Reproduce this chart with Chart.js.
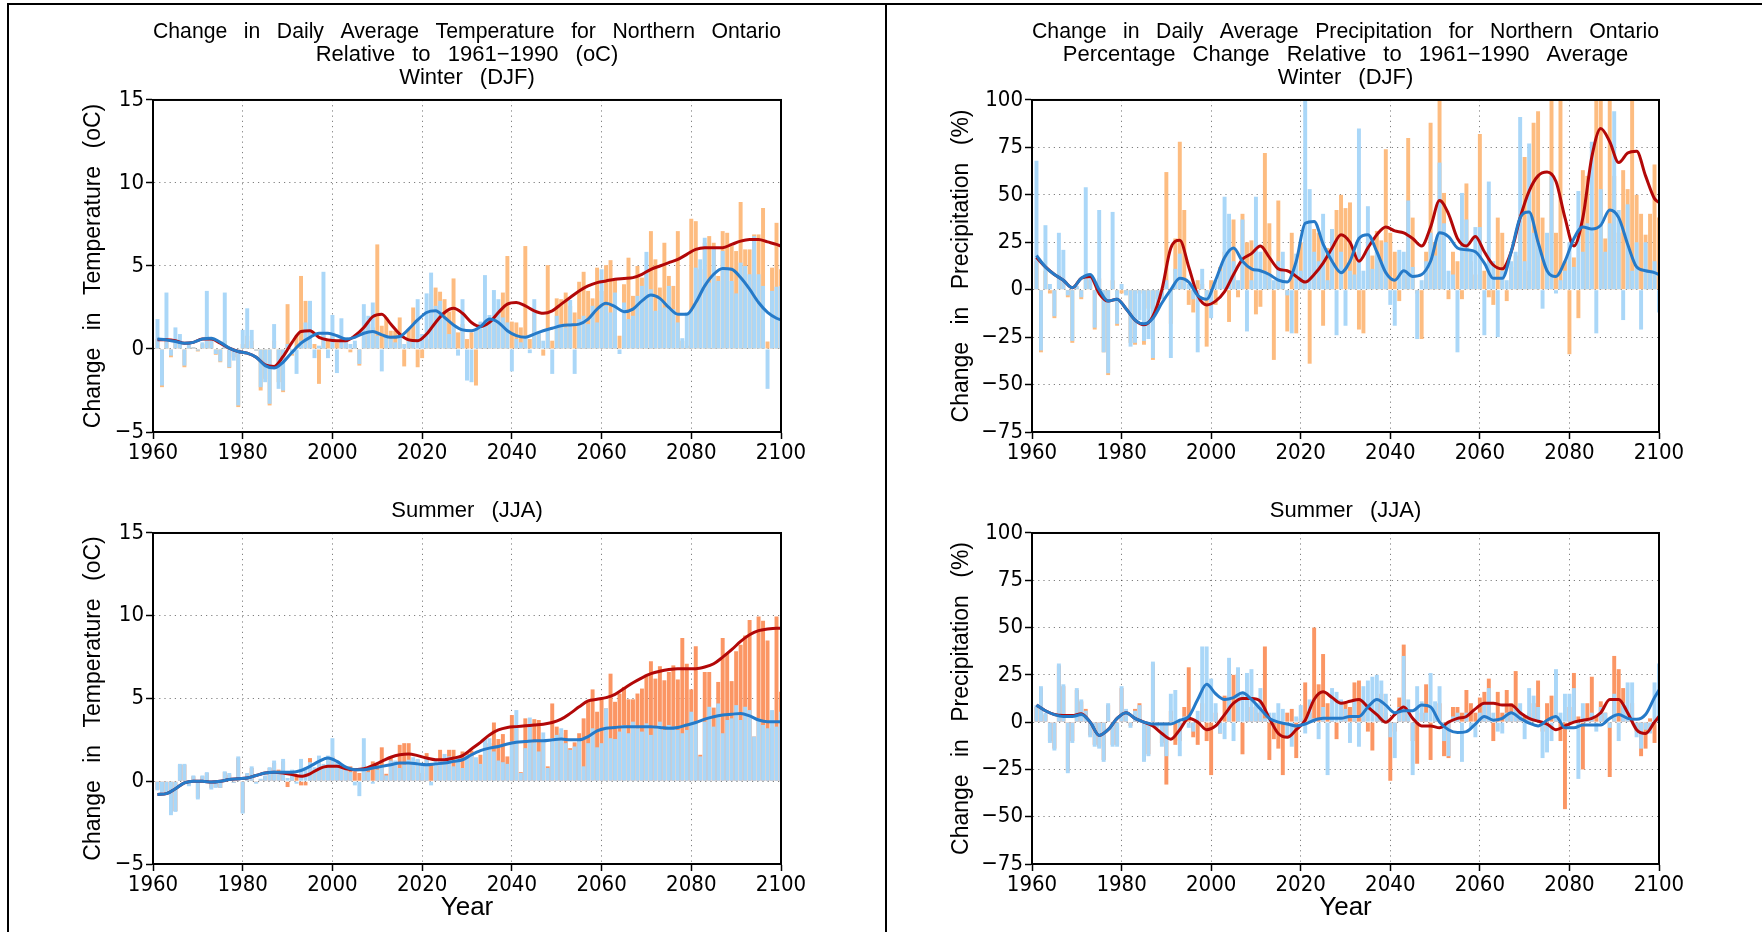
<!DOCTYPE html>
<html>
<head>
<meta charset="utf-8">
<script src="https://cdn.jsdelivr.net/npm/chart.js@4.4.1/dist/chart.umd.min.js"></script>
<style>
  body { margin: 0; background: #fff; width: 1762px; height: 932px; overflow: hidden; position: relative; }
  canvas { position: absolute; }
  .rule { position: absolute; background: #000; }
</style>
</head>
<body>
<div class="rule" style="left:7px;top:3px;width:1755px;height:2px"></div>
<div class="rule" style="left:7px;top:3px;width:2px;height:929px"></div>
<div class="rule" style="left:885px;top:3px;width:2px;height:929px"></div>

<canvas id="winterTemp" width="870" height="454" style="left:10px;top:8px"></canvas>
<canvas id="winterPrecip" width="870" height="454" style="left:890px;top:8px"></canvas>
<canvas id="summerTemp" width="870" height="444" style="left:10px;top:480px"></canvas>
<canvas id="summerPrecip" width="870" height="444" style="left:890px;top:480px"></canvas>

<script>
// years of the annual bars, and the years where the smoothed curves are read
const years = Array.from({ length: 140 }, (_, i) => 1961 + i);
const lineYears = Array.from({ length: 70 }, (_, i) => 1961 + 2 * i).concat([2100]);

// ---- Winter (DJF) temperature change, oC ----
const winterTempBlueBars = [
  1.8, -2.2, 3.4, -0.4, 1.3, 0.9, -1.0, 0.3, 0.1, -0.1,
  0.4, 3.5, 0.6, -0.3, -0.75, 3.4, -1.1, -0.7, -3.4, 1.15,
  2.45, 1.15, -0.1, -2.3, -2.0, -3.3, 1.5, -2.4, -2.5, 0.3,
  -0.3, -1.5, 0.5, 1.6, 2.9, -0.55, 0.2, 4.65, -0.55, 2.05,
  -1.45, 1.85, 0.7, 0.3, 0.5, -0.9, 2.7, 2.0, 2.8, 0.8,
  -1.35, 0.8, 0.6, 0.4, 0.9, 0.3, 0.6, 0.5, 3.0, 0.9,
  3.35, 4.6, 2.6, 2.9, 1.9, 0.9, 1.5, -0.4, 3.0, -1.9,
  -2.0, 1.2, 1.65, 4.45, 2.05, 3.55, 3.0, 1.9, 1.6, -1.35,
  0.6, 0.4, 0.8, -0.25, 3.0, 1.0, 0.5, 1.2, -1.5, 2.0,
  1.5, 1.3, 2.95, -1.5, 1.8, 2.0, 1.5, 2.6, 1.6, 4.8,
  2.6, 2.2, 3.4, -0.3, 2.8, 1.8, 2.0, 3.2, 3.8, 5.85,
  3.6, 2.3, 3.0, 2.5, 3.8, 2.4, 1.6, 0.65, 2.2, 2.3,
  4.9, 5.4, 6.7, 4.0, 6.1, 4.1, 5.9, 4.9, 4.1, 3.35,
  5.2, 5.0, 4.5, 6.8, 4.5, 3.8, -2.4, 3.5, 3.75, 3.8
];
const winterTempOrangeBars = [
  0.6, -2.3, 0.5, -0.5, 0.4, 0.3, -1.1, 0.2, 0.1, -0.15,
  0.3, 0.8, 0.5, -0.35, -0.8, 0.5, -1.15, -0.5, -3.5, 0.3,
  0.8, 0.5, -0.1, -2.5, -1.8, -3.4, 0.5, -2.0, -2.6, 2.7,
  -0.4, 0.8, 4.4, 2.9, 2.0, 0.3, -2.1, 1.0, 0.5, 1.0,
  0.4, 0.6, 0.5, -0.2, 0.3, -1.0, 0.8, 1.5, 1.3, 6.3,
  1.4, 1.9, 1.1, 1.1, 1.9, -1.05, 1.2, 2.5, -1.1, -0.55,
  0.6, 3.3, 3.7, 3.45, 3.0, 2.25, 4.25, 1.0, 1.5, 0.6,
  1.0, -2.2, 1.2, 1.5, 1.6, 1.9, 2.3, 3.4, 5.6, 1.65,
  1.6, 1.3, 6.2, 0.6, 2.2, 0.9, -0.4, 5.05, 0.5, 3.05,
  3.0, 3.4, 2.6, 2.2, 4.05, 4.65, 3.5, 3.05, 4.9, 3.5,
  5.05, 5.35, 4.2, 0.8, 3.9, 5.5, 3.2, 5.0, 4.3, 4.7,
  7.1, 5.4, 3.7, 6.4, 4.4, 3.8, 7.1, 0.5, 0.2, 7.85,
  7.7, 4.8, 6.4, 6.8, 6.4, 4.4, 7.1, 7.0, 6.2, 5.9,
  8.85, 6.0, 6.0, 6.9, 6.9, 8.5, 0.45, 4.9, 7.6, 4.8
];
const winterTempRedLine = [
  0.55, 0.55, 0.5, 0.35, 0.4, 0.6, 0.6, 0.35, 0.05, -0.15,
  -0.25, -0.5, -0.95, -1.05, -0.45, 0.4, 1.05, 1.1, 0.7, 0.55,
  0.5, 0.5, 0.8, 1.3, 1.95, 2.1, 1.5, 0.9, 0.55, 0.5,
  0.9, 1.6, 2.2, 2.45, 2.15, 1.6, 1.35, 1.6, 2.2, 2.7,
  2.8, 2.6, 2.3, 2.15, 2.3, 2.7, 3.1, 3.5, 3.8, 4.0,
  4.1, 4.2, 4.25, 4.3, 4.5, 4.8, 5.0, 5.2, 5.4, 5.7,
  6.0, 6.1, 6.1, 6.1, 6.3, 6.5, 6.6, 6.6, 6.45, 6.3,
  6.2
];
const winterTempBlueLine = [
  0.6, 0.55, 0.45, 0.35, 0.4, 0.6, 0.65, 0.4, 0.05, -0.15,
  -0.25, -0.5, -1.0, -1.15, -0.8, -0.2, 0.35, 0.7, 0.95, 0.95,
  0.8, 0.6, 0.7, 0.95, 1.05, 0.85, 0.7, 0.75, 1.2, 1.75,
  2.2, 2.3, 1.9, 1.45, 1.15, 1.1, 1.35, 1.8, 1.6, 1.1,
  0.8, 0.7, 0.9, 1.1, 1.25, 1.4, 1.45, 1.5, 1.8, 2.4,
  2.75, 2.55, 2.25, 2.4, 2.9, 3.25, 3.05, 2.5, 2.1, 2.1,
  2.8, 3.8, 4.5, 4.85, 4.8, 4.3, 3.6, 2.8, 2.2, 1.85,
  1.75
];

// ---- Winter (DJF) precipitation change, % ----
const winterPrecipBlueBars = [
  68, -32, 34, 3, -14, 30, 21, -3, -27, 2,
  -4, 54, 8, -20, 42, -33, -44, 41, -18, 3,
  -3, -30, -28, -16, -27, -26, -36, -10, -5, 5,
  -36, 11, 19, 5, 3, -5, -33, 11, -5, -15,
  5, 10, 49, 40, 15, 5, 37, -22, 5, 49,
  20, 10, 8, 5, 15, 20, -3, -23, 19, 10,
  100, 53, 20, 15, 40, 5, 32, -24, 20, -19,
  10, 8, 85, 10, 44, 11, 20, 15, 25, -8,
  -19, 21, 20, 47, 12, -26, 5, 15, 30, 18,
  67, 35, 10, 8, -33, 51, 37, 20, 33, 33,
  -24, 57, 15, -25, 10, 5, 15, 20, 91, 15,
  77, 30, 25, -10, 30, 60, -2, 5, 10, 25,
  12, 52, 20, 35, 78, -23, 53, 20, 35, 94,
  42, -16, 45, 10, 25, -21, 25, 10, 15, -12
];
const winterPrecipOrangeBars = [
  15, -33, 10, -2, -15, 8, 5, -4, -28, 1,
  -5, 8, 5, -21, 6, -33, -45, 5, -19, -2,
  -2, -28, -29, -2, -29, -10, -37, -5, -3, 62,
  -18, 27, 78, 42, -8, -12, 5, 3, -30, 5,
  -8, 12, 20, -17, 37, -4, 40, 25, 26, -13,
  -9, 72, 35, -37, 47, 10, -22, 30, -23, 25,
  5, -39, 32, 30, -19, 22, 32, 42, 50, 43,
  46, 20, -21, -23, 25, 18, 31, 26, 74, 30,
  20, -6, 8, 80, 38, -2, -26, 20, 88, 25,
  100, 51, -5, 20, 15, -5, 56, 15, 8, 82,
  10, -4, -8, 38, 30, -6, 12, 18, 40, 70,
  10, 88, 94, 38, 22, 100, 30, 100, 15, -34,
  17, -15, 63, 60, 30, 100, 100, 27, 100, 60,
  30, 63, 53, 100, 50, 40, 29, 40, 66, 38
];
const winterPrecipRedLine = [
  17, 12, 8, 5, 1, 6, 7, -2, -6, -5,
  -10, -16, -18.5, -14, 0, 22, 26, 12, -3, -8,
  -6, -1, 8, 16, 19, 23, 17, 11, 10, 7,
  4, 8, 14, 22, 29, 25, 15, 22, 29, 33,
  31, 30, 27, 23, 33, 47, 40, 27, 23, 28,
  20, 13, 11, 20, 38, 52, 60, 62, 57, 38,
  23, 38, 70, 85, 78, 67, 72, 73, 60, 48,
  46
];
const winterPrecipBlueLine = [
  18, 12, 8, 5, 1, 6, 8, 0, -6, -5,
  -10, -16, -18, -15, -7, 0, 6, 4, -3, -5,
  5, 17, 22, 15, 11, 10, 8, 5, 4, 15,
  35, 36, 24, 15, 9, 15, 27, 29, 20, 9,
  5, 10, 7, 8, 15, 30, 28, 22, 21, 20,
  14, 6, 6, 20, 38, 41, 25, 10, 7, 15,
  27, 33, 32, 34, 42, 38, 24, 12, 10, 9,
  8
];

// ---- Summer (JJA) temperature change, oC ----
const summerTempBlueBars = [
  -0.55, -0.7, -0.8, -2.05, -1.85, 1.05, 1.05, -0.3, 0.35, -1.1,
  0.35, 0.55, -0.5, -0.4, -0.4, 0.6, 0.5, -0.1, 1.5, -1.95,
  0.5, 0.9, -0.15, 0.15, 0.35, 0.85, 1.25, 0.45, 1.35, 0.2,
  0.7, -0.15, 1.35, 0.85, 1.15, 0.85, 1.55, 1.05, 1.55, 2.6,
  1.25, 1.0, 0.8, 0.55, -0.25, -0.9, 2.6, 0.55, -0.15, 0.7,
  0.9, 0.35, 1.25, 1.25, 0.8, 1.0, 1.3, 1.45, 1.35, 1.1,
  1.4, -0.25, 1.25, 1.3, 1.65, 1.5, 0.9, 1.4, 0.8, 1.6,
  1.6, 1.45, 1.05, 2.55, 2.6, 1.8, 1.25, 1.15, 1.05, 2.4,
  4.3, 0.5, 2.0, 3.85, 2.35, 1.8, 2.95, 0.8, 2.6, 2.8,
  3.2, 2.3, 1.9, 2.1, 2.5, 0.9, 2.3, 3.2, 2.05, 2.3,
  4.4, 2.6, 2.55, 3.0, 3.4, 2.9, 3.6, 3.2, 3.0, 3.5,
  2.8, 3.2, 3.6, 3.1, 3.4, 3.3, 3.1, 2.9, 3.1, 4.2,
  3.6, 1.5, 3.6, 4.5, 3.3, 4.7, 2.9, 3.7, 3.8, 4.6,
  3.7, 4.5, 4.3, 2.7, 3.8, 3.4, 3.2, 4.3, 3.3, 4.2
];
const summerTempOrangeBars = [
  -0.5, -0.6, -0.7, -1.9, -1.8, 1.0, 1.0, -0.2, 0.3, -1.0,
  0.3, 0.5, -0.4, -0.35, -0.4, 0.55, 0.4, -0.1, 1.4, -1.9,
  0.45, 0.8, -0.1, 0.1, 0.3, 0.8, 1.1, 0.7, 1.2, -0.35,
  0.6, 0.3, -0.25, -0.25, 1.4, 0.7, 1.3, 0.9, 1.2, 1.5,
  1.0, 0.9, 0.7, 0.9, 0.6, 0.5, 1.0, 0.8, 1.2, 1.0,
  2.05, 0.45, 1.5, 1.1, 2.2, 2.3, 2.3, 1.2, 1.3, 0.5,
  1.7, 1.0, 1.1, 1.9, 1.3, 1.9, 1.9, 1.3, 1.8, 1.7,
  1.85, 1.3, 1.6, 2.5, 2.3, 3.55, 2.55, 2.85, 1.5, 4.0,
  3.2, 0.55, 3.8, 3.4, 3.75, 3.7, 2.4, 0.9, 4.7, 3.3,
  2.9, 3.1, 2.0, 2.35, 2.9, 3.8, 4.85, 5.55, 4.2, 5.05,
  4.4, 6.5, 4.8, 5.3, 5.7, 4.95, 4.95, 5.3, 5.6, 6.45,
  7.25, 6.2, 6.95, 6.1, 6.6, 7.0, 6.15, 8.65, 7.1, 5.55,
  8.15, 1.6, 6.6, 6.6, 4.45, 6.0, 8.65, 7.75, 6.05, 7.85,
  8.25, 8.8, 9.75, 2.7, 9.95, 9.7, 8.5, 3.2, 9.95, 5.4
];
const summerTempRedLine = [
  -0.8, -0.75, -0.45, -0.1, 0.0, 0.0, -0.05, 0.0, 0.1, 0.15,
  0.2, 0.35, 0.5, 0.55, 0.5, 0.4, 0.3, 0.45, 0.75, 0.9,
  0.9, 0.75, 0.7, 0.75, 0.95, 1.2, 1.45, 1.6, 1.65, 1.55,
  1.4, 1.3, 1.3, 1.4, 1.55, 1.95, 2.35, 2.8, 3.1, 3.25,
  3.3, 3.35, 3.4, 3.45, 3.55, 3.75, 4.1, 4.5, 4.85, 4.95,
  5.05, 5.25, 5.6, 5.95, 6.25, 6.5, 6.65, 6.75, 6.8, 6.8,
  6.8, 6.9, 7.1, 7.5, 7.95, 8.45, 8.85, 9.1, 9.2, 9.25,
  9.25
];
const summerTempBlueLine = [
  -0.8, -0.75, -0.45, -0.1, 0.0, 0.0, -0.05, 0.0, 0.1, 0.15,
  0.2, 0.35, 0.5, 0.55, 0.55, 0.55, 0.65, 0.9, 1.2, 1.4,
  1.2, 0.85, 0.7, 0.7, 0.8, 0.9, 1.0, 1.1, 1.1, 1.05,
  1.0, 1.05, 1.1, 1.2, 1.3, 1.6, 1.85, 2.0, 2.1, 2.25,
  2.35, 2.4, 2.45, 2.45, 2.5, 2.55, 2.5, 2.5, 2.7, 3.05,
  3.2, 3.25, 3.3, 3.3, 3.3, 3.3, 3.25, 3.2, 3.25, 3.4,
  3.55, 3.75, 3.9, 4.0, 4.05, 4.1, 3.95, 3.7, 3.6, 3.6,
  3.6
];

// ---- Summer (JJA) precipitation change, % ----
const summerPrecipBlueBars = [
  9, 19, 5, -11, -15, 31, 20, -27, -11, 18,
  12, 6, -8, -13, -14, -21, 10, -13, -13, 19,
  7, -3, 6, 9, -21, -18, 32, -3, -13, -18,
  15, 17, -18, 3, -3, -5, 6, 40, 40, 23,
  10, -6, -9, 34, -10, 29, 16, 26, 28, 10,
  18, 2, 5, 5, 10, 7, -8, -13, 3, 9,
  -6, 12, 2, -9, 8, -28, 18, 16, 12, 7,
  -11, 12, -13, 19, 22, 24, 25, 22, 15, -8,
  -19, 8, 35, 12, -28, 19, 11, 5, 26, 11,
  19, -10, -18, 3, 5, -21, 5, -3, -8, 5,
  10, 18, 5, -5, -6, 5, 5, 8, 10, -9,
  18, 14, 8, -19, -16, -10, 28, 5, 15, 15,
  18, -30, 10, 2, 5, -5, 8, 5, -3, 15,
  -10, 10, 21, 21, -8, -14, -4, -6, 21, 31
];
const summerPrecipOrangeBars = [
  8, 18, 4, -10, -14, 30, 19, -26, -10, 17,
  11, 7, -7, -12, -13, -20, 9, -12, -12, 18,
  6, -2, 7, 10, -20, -17, 31, -2, -11, -33,
  6, -12, -10, 8, 29, -8, -12, 10, -10, -28,
  5, -6, 14, 14, 25, 26, -17, 12, 8, 5,
  5, 40, -20, -9, -14, -28, 5, 7, -19, 2,
  21, 5, 50, 20, 36, 10, 5, -9, 5, 10,
  8, 21, 22, 10, -5, -15, 10, 15, 5, -31,
  -5, 13, 41, 5, -10, -22, 5, 20, -20, 5,
  10, -18, -19, 8, 8, 5, 17, 10, 5, 13,
  16, 23, -10, 16, 5, 17, 10, 27, 5, 3,
  5, 10, 22, -5, 10, 14, 5, -10, -46, 8,
  26, 3, -25, 10, 24, 3, 11, 5, -29, 35,
  28, 18, 5, 10, -5, -18, -14, 2, -11, 3
];
const summerPrecipRedLine = [
  9, 6, 4, 3.5, 3.5, 4.5, 0, -7, -4, 2,
  5, 2, 0, -2, -6, -9, -4, 2, 0, -4,
  -2, 4, 10, 12.5, 12.5, 11, 2, -6, -8, -4,
  1, 12, 16, 13, 10, 11, 12, 8, 4, 0,
  4, 8, 2, -2, -2, -3, 0, 2, 3, 7,
  10, 10, 9, 9, 5, 2, 0.5, -1, -4, -2,
  0, 1, 2, 5, 12, 12, 5, -4, -6, 0,
  3
];
const summerPrecipBlueLine = [
  9, 6, 4, 3, 3, 4, 0, -7, -4, 2,
  5, 2, 0, -1, -1, -1, 1, 3, 12, 20,
  15, 12, 13, 15.5, 12, 7, 2, 0, -1, -2,
  -1, 1, 2, 2, 2, 3, 3, 8, 12, 9,
  5, 6, 6, 9, 8, 0, -4, -5.5, -5, -1,
  3, 1, 2, 5, 2, -0.5, -2, 1, 3, -3,
  -3, -1.5, -1.5, -1.5, 2, 4, 2, 1.5, 4, 13,
  17
];

const tempTicks = { min: -5, max: 15, step: 5 };
const precipTicks = { min: -75, max: 100, step: 25 };

const BAR_BLUE = 'rgb(170, 215, 248)';
const BAR_ORANGE_WINTER = 'rgb(253, 188, 128)';
const BAR_ORANGE_SUMMER = 'rgb(251, 150, 100)';
const LINE_RED = 'rgb(178, 8, 8)';
const LINE_BLUE = 'rgb(38, 122, 200)';
const TEXT_FONT = "'Liberation Sans', Arial, sans-serif";
const TICK_FONT = "'Liberation Sans Narrow', 'DejaVu Sans Condensed', 'Liberation Sans', sans-serif";

Chart.defaults.font.family = TEXT_FONT;
Chart.defaults.color = '#000';

// black box round the plot area, and wide NCL-like spaces between words
const framePlugin = {
  id: 'frame',
  beforeDraw(chart) {
    chart.ctx.wordSpacing = '11px';
  },
  afterDraw(chart) {
    const { ctx, chartArea: a } = chart;
    ctx.save();
    ctx.strokeStyle = '#000';
    ctx.lineWidth = 2;
    ctx.strokeRect(a.left, a.top, a.right - a.left, a.bottom - a.top);
    ctx.restore();
  }
};

function points(xs, ys) {
  return xs.map((x, i) => ({ x: x, y: ys[i] }));
}

function minusSign(v) {
  return v < 0 ? '\u2212' + Math.abs(v) : String(v);
}

function makePanel(id, p) {
  const axisGrid = {
    color: 'rgba(0,0,0,0.5)',
    lineWidth: 1,
    drawTicks: true,
    tickLength: 7,
    tickColor: '#000',
    tickWidth: 1.5,
    offset: false
  };
  const axisBorder = { display: true, color: '#000', width: 2, dash: [1.2, 4] };

  new Chart(document.getElementById(id), {
    type: 'bar',
    data: {
      datasets: [
        {
          type: 'line', label: 'blue curve', data: points(lineYears, p.blueLine),
          borderColor: LINE_BLUE, borderWidth: 3, pointRadius: 0,
          cubicInterpolationMode: 'monotone', fill: false, order: 0
        },
        {
          type: 'line', label: 'red curve', data: points(lineYears, p.redLine),
          borderColor: LINE_RED, borderWidth: 3, pointRadius: 0,
          cubicInterpolationMode: 'monotone', fill: false, order: 1
        },
        {
          type: 'bar', label: 'blue bars', data: points(years, p.blueBars),
          backgroundColor: BAR_BLUE, borderWidth: 0, grouped: false,
          barPercentage: 0.88, categoryPercentage: 1, order: 2
        },
        {
          type: 'bar', label: 'orange bars', data: points(years, p.orangeBars),
          backgroundColor: p.orange, borderWidth: 0, grouped: false,
          barPercentage: 0.88, categoryPercentage: 1, order: 3
        }
      ]
    },
    options: {
      responsive: false,
      animation: false,
      devicePixelRatio: 1,
      layout: { padding: { left: 0, right: p.rightPad, top: 0, bottom: 0 } },
      plugins: {
        legend: { display: false },
        tooltip: { enabled: false },
        title: {
          display: true,
          text: p.title,
          fullSize: false,
          color: '#000',
          font: { family: TEXT_FONT, size: 22, weight: 'normal', lineHeight: 1.045 },
          padding: { top: p.titleTop, bottom: p.titleBottom }
        }
      },
      scales: {
        x: {
          type: 'linear',
          min: 1960,
          max: 2100,
          offset: false,
          grid: axisGrid,
          border: axisBorder,
          ticks: {
            stepSize: 20,
            autoSkip: false,
            maxRotation: 0,
            padding: 1,
            color: '#000',
            font: { family: TICK_FONT, size: 22 },
            callback: (v) => String(v)
          },
          title: {
            display: !!p.xTitle,
            text: p.xTitle || '',
            color: '#000',
            font: { family: TEXT_FONT, size: 26 },
            padding: { top: 0, bottom: 1 }
          },
          afterFit: (s) => { s.height = p.xAxisHeight; }
        },
        y: {
          min: p.ticks.min,
          max: p.ticks.max,
          grid: axisGrid,
          border: axisBorder,
          ticks: {
            stepSize: p.ticks.step,
            padding: 2,
            color: '#000',
            font: { family: TICK_FONT, size: 22 },
            callback: minusSign
          },
          title: {
            display: true,
            text: p.yTitle,
            color: '#000',
            font: { family: TEXT_FONT, size: 23 },
            padding: { top: p.yTitlePad, bottom: 0 }
          },
          afterFit: (s) => { s.width = p.yAxisWidth; }
        }
      }
    },
    plugins: [framePlugin]
  });
}

makePanel('winterTemp', {
  title: ['Change in Daily Average Temperature for Northern Ontario',
          'Relative to 1961\u22121990 (oC)', 'Winter (DJF)'],
  titleTop: 12, titleBottom: 11,
  yTitle: 'Change in Temperature (oC)', yTitlePad: 70, yAxisWidth: 143,
  xTitle: null, xAxisHeight: 30, rightPad: 99, ticks: tempTicks,
  blueBars: winterTempBlueBars, orangeBars: winterTempOrangeBars, orange: BAR_ORANGE_WINTER,
  redLine: winterTempRedLine, blueLine: winterTempBlueLine
});

makePanel('winterPrecip', {
  title: ['Change in Daily Average Precipitation for Northern Ontario',
          'Percentage Change Relative to 1961\u22121990 Average', 'Winter (DJF)'],
  titleTop: 12, titleBottom: 11,
  yTitle: 'Change in Precipitation (%)', yTitlePad: 58, yAxisWidth: 142,
  xTitle: null, xAxisHeight: 30, rightPad: 101, ticks: precipTicks,
  blueBars: winterPrecipBlueBars, orangeBars: winterPrecipOrangeBars, orange: BAR_ORANGE_WINTER,
  redLine: winterPrecipRedLine, blueLine: winterPrecipBlueLine
});

makePanel('summerTemp', {
  title: ['Summer (JJA)'],
  titleTop: 19, titleBottom: 11,
  yTitle: 'Change in Temperature (oC)', yTitlePad: 70, yAxisWidth: 143,
  xTitle: 'Year', xAxisHeight: 60, rightPad: 99, ticks: tempTicks,
  blueBars: summerTempBlueBars, orangeBars: summerTempOrangeBars, orange: BAR_ORANGE_SUMMER,
  redLine: summerTempRedLine, blueLine: summerTempBlueLine
});

makePanel('summerPrecip', {
  title: ['Summer (JJA)'],
  titleTop: 19, titleBottom: 11,
  yTitle: 'Change in Precipitation (%)', yTitlePad: 58, yAxisWidth: 142,
  xTitle: 'Year', xAxisHeight: 60, rightPad: 101, ticks: precipTicks,
  blueBars: summerPrecipBlueBars, orangeBars: summerPrecipOrangeBars, orange: BAR_ORANGE_SUMMER,
  redLine: summerPrecipRedLine, blueLine: summerPrecipBlueLine
});
</script>
</body>
</html>
